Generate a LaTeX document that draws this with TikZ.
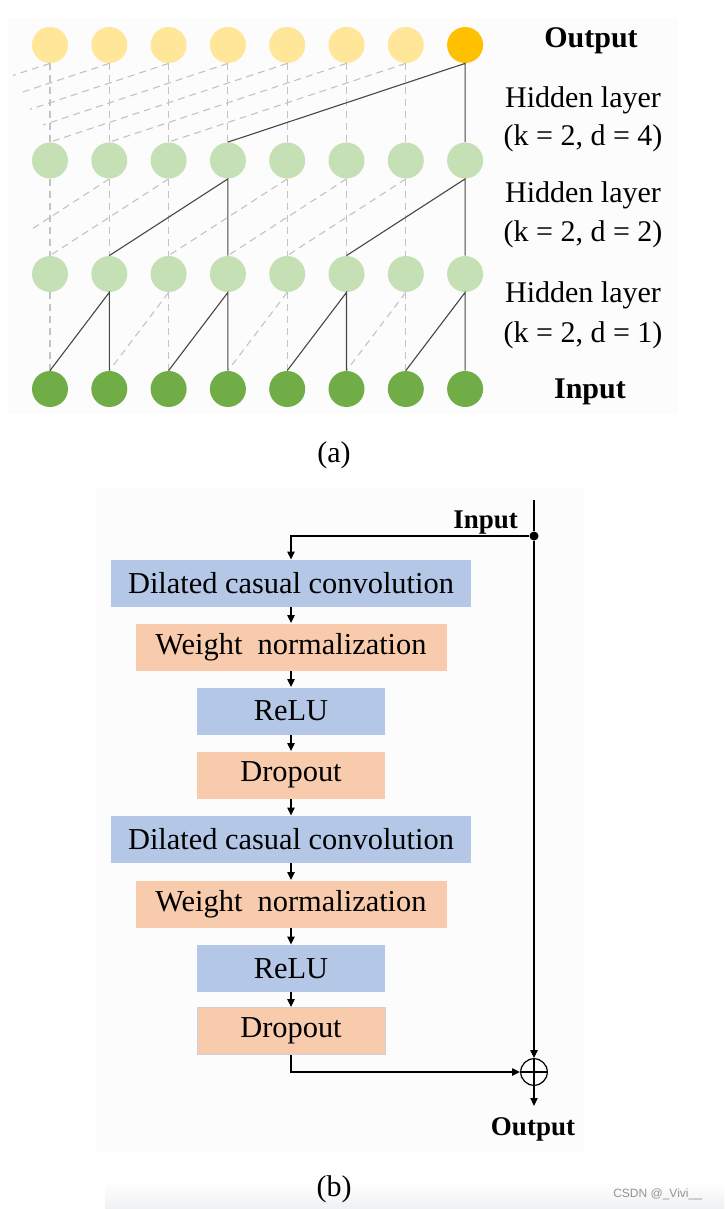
\documentclass[tikz,border=0pt]{standalone}
\usepackage{fontspec}
\setmainfont{Liberation Serif}
\newfontfamily\markfont{Liberation Sans}
\usetikzlibrary{arrows.meta}

\definecolor{outlight}{RGB}{255,230,153}
\definecolor{outdark}{RGB}{255,192,0}
\definecolor{hidgreen}{RGB}{197,224,180}
\definecolor{ingreen}{RGB}{112,173,71}
\definecolor{convblue}{RGB}{180,199,231}
\definecolor{normorange}{RGB}{248,203,173}
\definecolor{panelbg}{RGB}{252,252,252}
\definecolor{dashgray}{RGB}{195,195,195}
\definecolor{linkgray}{RGB}{70,70,70}
\definecolor{shadowgray}{RGB}{238,240,242}

\tikzset{
    unit/.style = {shape = circle, minimum size = 18pt, inner sep = 0pt},
    link/.style = {draw = linkgray, line width = 0.55pt},
    ghost/.style = {draw = dashgray, line width = 0.55pt, dash pattern = on 3.5pt off 2.5pt},
    layerlabel/.style = {anchor = base, font = \fontsize{15}{18}\selectfont},
    block/.style = {minimum height = 23.5pt, inner sep = 0pt, font = \fontsize{15.2}{18}\selectfont},
    flow/.style = {draw = black, line width = 0.75pt, -{Triangle[length = 4pt, width = 3.6pt]}},
}

\begin{document}
\begin{tikzpicture}[x = 0.5pt, y = -0.5pt]
    \useasboundingbox (0,0) rectangle (724,1209);
    \fill[panelbg] (8,18) rectangle (678,414);
    \fill[panelbg] (96,488) rectangle (584,1152);
    \shade[top color = white, bottom color = shadowgray] (105,1182) rectangle (724,1209);

    % (a) dilated layers
    \foreach \i in {0,...,7}{
        \pgfmathsetmacro{\xx}{50 + 59.3*\i}
        \node[unit, fill = hidgreen] (hb\i) at (\xx,160.5) {};
        \node[unit, fill = hidgreen] (ha\i) at (\xx,274) {};
        \node[unit, fill = ingreen] (in\i) at (\xx,389) {};
    }
    \foreach \i in {0,...,6}{
        \pgfmathsetmacro{\xx}{50 + 59.3*\i}
        \node[unit, fill = outlight] (o\i) at (\xx,45) {};
    }
    \node[unit, fill = outdark] (o7) at (465.1,45) {};

    \coordinate (e0) at (13,75.4);
    \coordinate (e1) at (20,92.9);
    \coordinate (e2) at (30,109.4);
    \coordinate (e3) at (43,125);
    \coordinate (f1) at (29,231);

    % d = 4
    \foreach \i in {0,...,6} \draw[ghost] (o\i.south) -- (hb\i.north);
    \foreach \i/\j in {4/0,5/1,6/2} \draw[ghost] (o\i.south) -- (hb\j.north);
    \foreach \i in {0,...,3} \draw[ghost] (o\i.south) -- (e\i);
    \draw[link] (hb3.north) -- (o7.south) -- (hb7.north);

    % d = 2
    \foreach \i in {0,1,2,4,5,6} \draw[ghost] (hb\i.south) -- (ha\i.north);
    \foreach \i/\j in {2/0,4/2,5/3,6/4} \draw[ghost] (hb\i.south) -- (ha\j.north);
    \draw[ghost] (hb1.south) -- (f1);
    \draw[link] (ha1.north) -- (hb3.south) -- (ha3.north);
    \draw[link] (ha5.north) -- (hb7.south) -- (ha7.north);

    % d = 1
    \foreach \i in {0,2,4,6} \draw[ghost] (ha\i.south) -- (in\i.north);
    \foreach \i/\j in {2/1,4/3,6/5} \draw[ghost] (ha\i.south) -- (in\j.north);
    \foreach \i/\j in {1/0,3/2,5/4,7/6} \draw[link] (in\j.north) -- (ha\i.south) -- (in\i.north);

    \node[layerlabel, font = \fontsize{15}{18}\selectfont\bfseries] (outlbl) at (591,48) {Output};
    \node[layerlabel] (hid3a) at (583,108) {Hidden layer};
    \node[layerlabel] (hid3b) at (583,146) {(k = 2, d = 4)};
    \node[layerlabel] (hid2a) at (583,203) {Hidden layer};
    \node[layerlabel] (hid2b) at (583,242) {(k = 2, d = 2)};
    \node[layerlabel] (hid1a) at (583,302) {Hidden layer};
    \node[layerlabel] (hid1b) at (583,342) {(k = 2, d = 1)};
    \node[layerlabel, font = \fontsize{15}{18}\selectfont\bfseries] (inlbl) at (590,398) {Input};
    \node[layerlabel] (capa) at (334,462) {(a)};

    % (b) residual block
    \node[block, fill = convblue, minimum width = 180pt] (conv1) at (291,583.5) {Dilated casual convolution};
    \node[block, fill = normorange, minimum width = 155.5pt] (norm1) at (291,647) {Weight\ \ normalization};
    \node[block, fill = convblue, minimum width = 94pt] (relu1) at (291,711) {ReLU};
    \node[block, fill = normorange, minimum width = 94pt] (drop1) at (291,775) {Dropout};
    \node[block, fill = convblue, minimum width = 180pt] (conv2) at (291,839.5) {Dilated casual convolution};
    \node[block, fill = normorange, minimum width = 155.5pt] (norm2) at (291,904) {Weight\ \ normalization};
    \node[block, fill = convblue, minimum width = 94pt] (relu2) at (291,968.5) {ReLU};
    \node[block, fill = normorange, draw = convblue!70!gray!60, minimum width = 94pt] (drop2) at (291,1031) {Dropout};

    \foreach \a/\b in {conv1/norm1,norm1/relu1,relu1/drop1,drop1/conv2,conv2/norm2,norm2/relu2,relu2/drop2}
        \draw[flow] (\a) -- (\b);

    \coordinate (intop) at (534,500);
    \node[shape = circle, fill = black, inner sep = 0pt, minimum size = 4.5pt] (split) at (534,536) {};
    \node[shape = circle, draw = black, line width = 0.6pt, inner sep = 0pt, minimum size = 13.3pt] (sum) at (534,1072) {};
    \draw[line width = 0.6pt] (sum.north) -- (sum.south) (sum.west) -- (sum.east);
    \coordinate (outend) at (534,1106);

    \draw[line width = 0.75pt] (intop) -- (split);
    \draw[flow] (split) -- (sum);
    \draw[flow] (split) -| (conv1);
    \draw[flow] (drop2) |- (sum);
    \draw[flow] (sum) -- (outend);

    \node[anchor = base east, font = \fontsize{13.5}{16}\selectfont\bfseries] (inb) at (525,528) {Input};
    \node[anchor = base, font = \fontsize{13.5}{16}\selectfont\bfseries] (outb) at (533,1135) {Output};
    \node[layerlabel] (capb) at (334,1196) {(b)};
    \node[anchor = base east, text = gray!85, font = \fontsize{6}{7}\selectfont\markfont] (mark) at (709,1197) {CSDN @\_Vivi\_\_};
\end{tikzpicture}
\end{document}
